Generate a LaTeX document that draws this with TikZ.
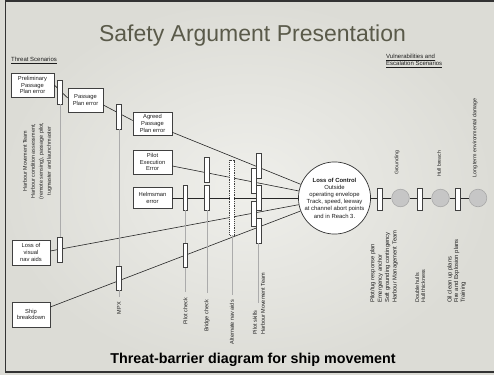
\documentclass[tikz,border=0pt]{standalone}
\usepackage{fontspec}
\setmainfont{Liberation Sans}
\definecolor{bgin}{HTML}{EFEFEB}
\definecolor{bgout}{HTML}{DCDCD6}
\definecolor{titlecol}{HTML}{5A5A4A}
\definecolor{inkcol}{HTML}{1E1E1E}
\definecolor{ballfill}{HTML}{C6C6C6}
\definecolor{balldraw}{HTML}{A8A8A8}
\begin{document}
\begin{tikzpicture}[x=1pt,y=-1pt,
  frame/.style={draw=black!80, line width=1.2pt},
  box/.style={draw=black!75, fill=white, line width=0.6pt, inner sep=0pt, align=center,
    font=\fontsize{5.8}{6.8}\selectfont, text=inkcol},
  bar/.style={draw=black!75, fill=white, line width=0.6pt, inner sep=0pt,
    minimum width=4.5pt, minimum height=25pt},
  dbar/.style={bar, dash pattern=on 1.2pt off 1pt},
  link/.style={draw=black!85, line width=0.6pt},
  post/.style={draw=black!33, line width=0.9pt},
  vlab/.style={rotate=90, inner sep=0pt, text=inkcol, font=\fontsize{5.5}{7}\selectfont},
  ball/.style={circle, draw=balldraw, fill=ballfill, line width=0.6pt, minimum size=17.6pt, inner sep=0pt},
  head/.style={inner sep=0pt, text=inkcol, font=\fontsize{6}{8}\selectfont, align=left}
]
\useasboundingbox (0,0) rectangle (494,374);
\shade[inner color=bgin, outer color=bgout] (0,0) rectangle (494,374);
\draw[frame] (494,1) -- (5.5,1) -- (5.5,372) -- (494,372);

% titles
\node[anchor=base, inner sep=0pt, text=titlecol, font=\fontsize{23}{26}\selectfont] (title) at (252.5,42) {Safety Argument Presentation};
\node[anchor=base, inner sep=0pt, text=black, font=\fontsize{14.3}{16}\selectfont\bfseries] (subtitle) at (253,363) {Threat-barrier diagram for ship movement};
\node[head, anchor=base west] (threathead) at (11,62) {\underline{Threat Scenarios}};
\node[head, anchor=base west] (vulnhead) at (386,66) {\underline{Vulnerabilities and}\\[-1pt]\underline{Escalation Scenarios}};

% threat boxes
\node[box, minimum width=43pt, minimum height=24pt] (b1) at (32.5,85) {Preliminary\\Passage\\Plan error};
\node[box, minimum width=35pt, minimum height=24pt] (b2) at (85.5,100) {Passage\\Plan error};
\node[box, minimum width=39pt, minimum height=23pt] (b3) at (152.5,123.5) {Agreed\\Passage\\Plan error};
\node[box, minimum width=39pt, minimum height=24pt] (b4) at (152.5,162) {Pilot\\Execution\\Error};
\node[box, minimum width=39pt, minimum height=21pt] (b5) at (152.5,198) {Helmsman\\error};
\node[box, minimum width=38pt, minimum height=25pt] (b6) at (31,252.5) {Loss of\\visual\\nav aids};
\node[box, minimum width=38pt, minimum height=25pt] (b7) at (31,314.5) {Ship\\breakdown};

% top event
\node[circle, draw=black!80, fill=white, line width=0.7pt, minimum size=66pt, inner sep=0pt,
  align=center, text=inkcol, font=\fontsize{5.9}{7.2}\selectfont] (loc) at (334.5,198)
  {\textbf{Loss of Control}\\Outside\\operating envelope\\Track, speed, leeway\\at channel abort points\\and in Reach 3.};

% consequences
\node[ball] (c1) at (400.5,198) {};
\node[ball] (c2) at (440.5,198) {};
\node[ball] (c3) at (478,198) {};

% connectors
\draw[link] (b1.east) -- ([yshift=2pt]b2.west);
\draw[link] ([yshift=-5pt]b2.east) -- ([yshift=3pt]b3.west);
\draw[link] ([yshift=3pt]b3.south east) -- (loc);
\draw[link] ([yshift=-4pt]b4.east) -- (loc);
\draw[link] (b5.east) -- (loc);
\draw[link] ([yshift=1.5pt]b6.east) -- (loc);
\draw[link] ([yshift=7.5pt]b7.east) -- (loc);
\draw[link] (loc) -- (c1) -- (c2) -- (c3);

% barriers, left
\node[bar, minimum height=24pt] (A1) at (60,92) {};
\node[bar] (A2) at (60,249.5) {};
\node[bar] (B1) at (119,116.5) {};
\node[bar, minimum height=24pt] (B2) at (119,278) {};
% barriers, middle
\node[bar] (pc1) at (185.5,197.5) {};
\node[bar, minimum height=24pt] (pc2) at (185.5,255.3) {};
\node[bar] (bc1) at (207,169.5) {};
\node[bar, minimum height=24.5pt] (bc2) at (207,197.8) {};
\node[dbar, minimum height=75pt] (alt) at (232,197.5) {};
\node[bar] (ps1) at (258.7,165.5) {};
\node[bar] (ps2) at (253.8,180.5) {};
\node[bar] (ps3) at (258.7,197.5) {};
\node[bar] (ps4) at (253.8,214.2) {};
\node[bar] (ps5) at (258.7,230.5) {};
% barriers, right
\node[bar, minimum width=5pt, minimum height=22pt] (r1) at (379.5,199) {};
\node[bar, minimum width=5pt, minimum height=22pt] (r2) at (420,199) {};
\node[bar, minimum width=5pt, minimum height=22pt] (r3) at (458,199) {};

% posts
\coordinate (Bend) at (119,297);
\coordinate (pcend) at (185.5,292);
\coordinate (bcend) at (207,293);
\coordinate (altend) at (232,295);
\coordinate (psend) at (258.7,303);
\draw[post] (A1.south) -- (A2.north);
\draw[post] (B1.south) -- (B2.north);
\draw[post] (B2.south) -- (Bend);
\draw[post] (pc1.south) -- (pc2.north);
\draw[post] (pc2.south) -- (pcend);
\draw[post] (bc2.south) -- (bcend);
\draw[post] (alt.south) -- (altend);
\draw[post] (ps5.south) -- (psend);

% barrier labels
\node[vlab, align=center, font=\fontsize{5.4}{8}\selectfont] (hmtlab) at (37.5,161)
  {Harbour Movement Team\\Harbour condition assessment,\\(remote sensing), passage pilot,\\tugmaster and launchmaster};
\node[vlab, anchor=east] (mpx) at (119,302) {MPX};
\node[vlab, anchor=east] (pclab) at (185.5,298) {Pilot check};
\node[vlab, anchor=east] (bclab) at (207,300) {Bridge check};
\node[vlab, anchor=east] (altlab) at (232,300) {Alternate nav aids};
\node[vlab, anchor=west, align=left, font=\fontsize{5.5}{8}\selectfont] (pslab) at (259,335) {Pilot skills\\Harbour Movement Team};

% consequence labels
\node[vlab, anchor=west, font=\fontsize{5.1}{6}\selectfont] (grlab) at (397,175) {Grounding};
\node[vlab, anchor=west, font=\fontsize{5.1}{6}\selectfont] (hblab) at (439,177) {Hull breach};
\node[vlab, anchor=west, font=\fontsize{5.3}{6}\selectfont] (ltlab) at (475,178) {Long term environmental damage};

% mitigation labels
\node[vlab, anchor=west, align=left, font=\fontsize{5.8}{7.4}\selectfont] (m1) at (384,303)
  {Pilot/tug response plan\\Emergency anchor\\Soft grounding contingency\\Harbour Management Team};
\node[vlab, anchor=west, align=left, font=\fontsize{5.4}{6}\selectfont] (m2) at (420.3,303)
  {Double hulls\\Hull thickness};
\node[vlab, anchor=west, align=left, font=\fontsize{5.8}{6.7}\selectfont] (m3) at (456.7,303)
  {Oil clean up plans\\Fire and Explosion plans\\Training};
\end{tikzpicture}
\end{document}
